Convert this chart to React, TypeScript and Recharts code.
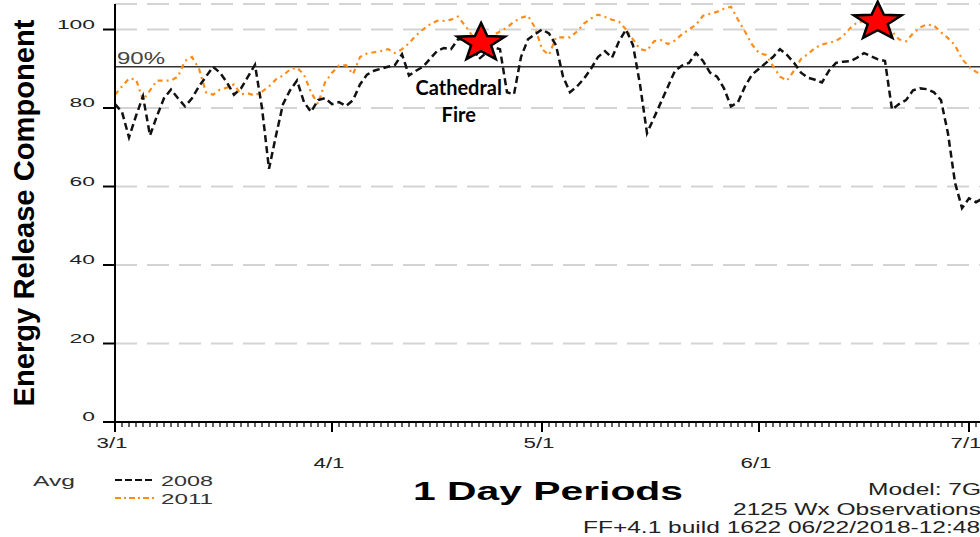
import { ComposedChart, Line, XAxis, YAxis, CartesianGrid, ReferenceLine, ReferenceDot } from "recharts"

// day index 0 = 3/1
const ERC_2008 = [
  81, 79, 72.5, 78, 83, 73, 78, 82.5, 84.7, 82.5,
  80.4, 82.5, 85.5, 88, 90.5, 89, 86.5, 83.4, 85, 88,
  91, 80, 64.5, 73, 81, 84.5, 87, 81.5, 79, 82,
  82.5, 81, 81.5, 80.5, 82, 86, 88.5, 89.5, 90, 90.5,
  91, 93.7, 88.3, 89.5, 90.5, 92.5, 94.5, 95.3, 95, 97.5,
  97.5, 96, 92.5, 94, 95.5, 95, 84, 83.5, 93, 97.5,
  98.8, 100, 99, 96, 88, 84, 85.5, 87.5, 90, 93,
  94.5, 92.8, 97, 100, 96, 86, 73.6, 77.5, 81.5, 85.5,
  89.5, 90.8, 91.5, 94, 92, 89, 88, 85, 80.4, 81.5,
  85.5, 88.5, 90, 91.5, 93, 95, 93.5, 91.5, 89, 87.7,
  87.2, 86.5, 89.5, 91.5, 91.8, 91.9, 92.8, 94, 93.2, 92.4,
  92, 79.6, 81, 82, 84.5, 85, 84.8, 84, 82, 73.5,
  61, 54.5, 57, 56, 57,
]

const ERC_2011 = [
  83.4, 85.5, 87.5, 87.3, 82, 84.5, 87, 87, 87, 88,
  92, 93, 90, 84, 83.4, 84.7, 85.2, 86, 83.5, 83.7,
  83.2, 84.2, 85.5, 87.3, 88.3, 89.8, 90.3, 88.5, 84, 81,
  86.5, 89, 90.8, 90.9, 88.6, 93, 93.9, 94.2, 94.5, 95,
  94, 95, 96.5, 98.5, 100, 101.3, 102.2, 102.2, 102.5, 103.3,
  101, 98.5, 97.5, 97.5, 98.5, 99.5, 100.5, 102, 103, 103.5,
  100.5, 95, 93.5, 98, 98, 98, 99.5, 101.5, 102.8, 103.8,
  103.2, 102.5, 102, 100, 97.5, 95, 94.6, 97, 97.3, 96.3,
  97.2, 98.8, 100, 101.2, 103.5, 104, 104.5, 105.3, 105.8, 102.5,
  99.5, 96.2, 94, 93.5, 90.7, 88, 87, 89.5, 92.5, 93.8,
  95.3, 96.2, 96.6, 97.1, 98.3, 100.3, 101.8, 102.2, 102.5, 102.5,
  101.5, 99.5, 97.5, 97, 99, 100.5, 101.3, 101, 99.3, 97.8,
  96, 92.5, 90.5, 89.2, 88.5,
]

const MONTH_DAYS = [0, 31, 61, 92, 122]
const MONTH_LABELS = ["3/1", "4/1", "5/1", "6/1", "7/1"]
const Y_TICKS = [0, 20, 40, 60, 80, 100]
const PCT_90 = 90.5

const STARS = [
  { day: 52.3, value: 96.6 },
  { day: 108.96, value: 102 },
]
const FIRE_NOTE = { day: 49.1, value: 83.3, lines: ["Cathedral", "Fire"] }

const rows = ERC_2008.map((v, i) => ({ day: i, y2008: v, y2011: ERC_2011[i] }))
const xTicks = Array.from({ length: 127 }, (_, i) => i)

const XTick = (props: any) => {
  const { x, y, payload } = props
  const idx = MONTH_DAYS.indexOf(payload.value)
  const major = idx >= 0
  return (
    <g>
      <line x1={x} x2={x} y1={y} y2={y + (major ? 10 : 5)} stroke="#000" strokeWidth={major ? 2 : 1.2} />
      {major && (
        <text x={x - 3} y={y + (idx % 2 === 0 ? 26 : 46)} textAnchor="middle" fontSize={14} fill="#222"
          textLength={31} lengthAdjust="spacingAndGlyphs">
          {MONTH_LABELS[idx]}
        </text>
      )}
    </g>
  )
}

const YTick = (props: any) => {
  const { x, y, payload } = props
  const s = String(payload.value)
  return (
    <text x={x} y={y - 1} textAnchor="end" fontSize={13} fill="#222"
      textLength={s.length * 12.7} lengthAdjust="spacingAndGlyphs">
      {s}
    </text>
  )
}

const Star = (props: any) => {
  const { cx, cy } = props
  const pts: string[] = []
  for (let i = 0; i < 10; i++) {
    const a = -Math.PI / 2 + (i * Math.PI) / 5
    const k = i % 2 === 0 ? 1 : 0.42
    pts.push(`${cx + Math.cos(a) * k * 25},${cy + Math.sin(a) * k * 20}`)
  }
  return <polygon points={pts.join(" ")} fill="#ff0000" stroke="#000" strokeWidth={2.5} />
}

const renderYLabel = () => (
  <text transform="translate(34,213) rotate(-90)" textAnchor="middle" fontSize={29} fontWeight="bold"
    fill="#000" textLength={387} lengthAdjust="spacingAndGlyphs">
    Energy Release Component
  </text>
)

const renderFooter = () => (
  <g>
    <text x={33} y={486} fontSize={15} fill="#333" textLength={42} lengthAdjust="spacingAndGlyphs">Avg</text>
    <line x1={115} x2={155} y1={480} y2={480} stroke="#111" strokeWidth={2} strokeDasharray="7 3" />
    <text x={161} y={486} fontSize={15} fill="#333" textLength={52} lengthAdjust="spacingAndGlyphs">2008</text>
    <line x1={115} x2={157} y1={498} y2={498} stroke="#ff8c1a" strokeWidth={2} strokeDasharray="6 3 2 3" />
    <text x={161} y={504} fontSize={15} fill="#333" textLength={52} lengthAdjust="spacingAndGlyphs">2011</text>
    <text x={413} y={500} fontSize={25} fontWeight="bold" fill="#000" textLength={270} lengthAdjust="spacingAndGlyphs">
      1 Day Periods
    </text>
    <text x={868} y={495} fontSize={16} fill="#222" textLength={113} lengthAdjust="spacingAndGlyphs">Model: 7G</text>
    <text x={733} y={515} fontSize={16} fill="#222" textLength={248} lengthAdjust="spacingAndGlyphs">
      2125 Wx Observations
    </text>
    <text x={583} y={533} fontSize={16} fill="#222" textLength={397} lengthAdjust="spacingAndGlyphs">
      FF+4.1 build 1622 06/22/2018-12:48
    </text>
  </g>
)

const render90 = (props: any) => {
  const { viewBox } = props
  return (
    <text x={viewBox.x + 2} y={viewBox.y - 3} fontSize={16} fill="#444" textLength={48} lengthAdjust="spacingAndGlyphs">
      90%
    </text>
  )
}

const renderNote = (props: any) => {
  const { viewBox } = props
  return (
    <g fontFamily="Lato, sans-serif" fontWeight="bold" fontSize={20} fill="#000" textAnchor="middle">
      <text x={viewBox.x} y={viewBox.y}>{FIRE_NOTE.lines[0]}</text>
      <text x={viewBox.x} y={viewBox.y + 27}>{FIRE_NOTE.lines[1]}</text>
    </g>
  )
}

export default function App() {
  return (
    <div style={{ position: "absolute", left: 0, top: 0, width: 980, height: 537, overflow: "hidden", background: "#fff", fontFamily: '"Liberation Sans", Arial, sans-serif' }}>
      <ComposedChart width={997} height={537} data={rows} margin={{ top: 4, right: 0, bottom: 0, left: 0 }}>
        <CartesianGrid vertical={false} stroke="#d4d4d4" strokeWidth={2} strokeDasharray="22 10" />
        <XAxis
          type="number"
          dataKey="day"
          domain={[0, 126]}
          allowDataOverflow
          ticks={xTicks}
          interval={0}
          height={115}
          tickSize={0}
          tickMargin={0}
          tickLine={false}
          tick={XTick}
          axisLine={{ stroke: "#000", strokeWidth: 2 }}
          label={renderFooter}
        />
        <YAxis
          type="number"
          domain={[0, 106.5]}
          allowDataOverflow
          ticks={Y_TICKS}
          interval={0}
          width={115}
          tickSize={12}
          tickMargin={8}
          tick={YTick}
          tickLine={{ stroke: "#000", strokeWidth: 2 }}
          axisLine={{ stroke: "#000", strokeWidth: 2 }}
          label={renderYLabel}
        />
        <ReferenceLine y={PCT_90} stroke="#333" strokeWidth={1.5} label={render90} />
        <Line type="linear" dataKey="y2011" stroke="#ff8c1a" strokeWidth={2.2} strokeDasharray="5 4 2 4" dot={false} isAnimationActive={false} />
        <Line type="linear" dataKey="y2008" stroke="#111" strokeWidth={2.5} strokeDasharray="7 4" dot={false} isAnimationActive={false} />
        <ReferenceDot x={FIRE_NOTE.day} y={FIRE_NOTE.value} r={0} fill="none" stroke="none" label={renderNote} />
        {STARS.map((s, i) => (
          <ReferenceDot key={i} x={s.day} y={s.value} r={20} shape={Star} />
        ))}
      </ComposedChart>
    </div>
  )
}
